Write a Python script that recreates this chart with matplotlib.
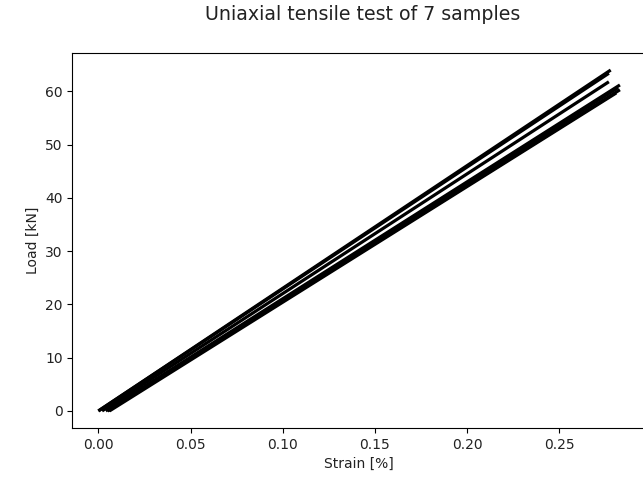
import matplotlib
matplotlib.use("Agg")
import matplotlib.pyplot as plt

# Seven samples: start strain (load 0) and end point (strain, load)
samples = ["S1", "S2", "S3", "S4", "S5", "S6", "S7"]
strain_start = [0.000, 0.000, 0.002, 0.004, 0.005, 0.005, 0.006]
strain_end = [0.278, 0.277, 0.277, 0.283, 0.282, 0.283, 0.281]
load_start = [0.0, 0.0, 0.0, 0.0, 0.0, 0.0, 0.0]
load_end = [64.0, 63.4, 61.8, 61.2, 60.7, 60.3, 59.7]

DPI = 100
fig = plt.figure(figsize=(643 / DPI, 494 / DPI), dpi=DPI)
plt.rcParams['font.size'] = 10
ax = fig.add_axes([72.3 / 643, 66 / 494, (646 - 72.3) / 643, (428 - 53) / 494])

for i in range(len(samples)):
    ax.plot([strain_start[i], strain_end[i]], [load_start[i], load_end[i]],
            color="black", lw=2.3, solid_capstyle="butt")

ax.set_xlabel("Strain [%]", fontsize=10, color="#222222")
ax.set_ylabel("Load [kN]", fontsize=10, color="#222222")
ax.tick_params(labelsize=10, labelcolor="#222222")
fig.text(363 / 643, 1 - 15 / 494, "Uniaxial tensile test of 7 samples",
         ha="center", va="center", fontsize=13.7, color="#222222")

fig.savefig("out.png", dpi=DPI)
